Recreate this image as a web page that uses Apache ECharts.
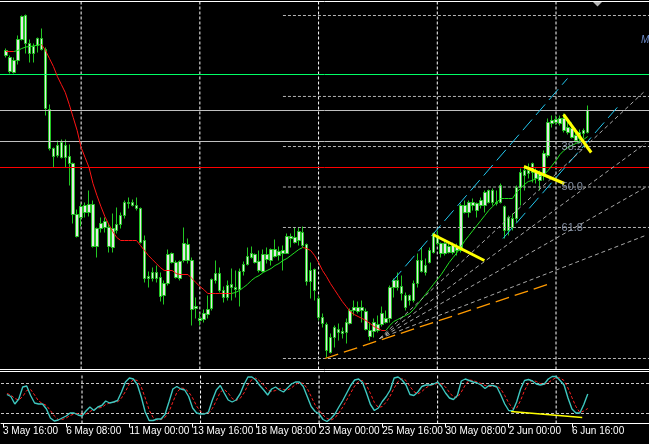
<!DOCTYPE html>
<html><head><meta charset="utf-8">
<script src="https://cdn.jsdelivr.net/npm/echarts@6/dist/echarts.min.js"></script>
<style>html,body{margin:0;padding:0;background:#000;overflow:hidden}#c{width:649px;height:444px;}</style>
</head><body><div id="c"></div>
<script>
// ---------- DATA (H4 bars, index k = 0..147) ----------
const openP = [
1.1452,1.1445,1.1430,1.1442,1.1463,1.1487,1.1459,1.1449,1.1457,1.1464,
1.1453,1.1393,1.1354,1.1347,1.1360,1.1345,1.1346,1.1339,1.1288,1.1285,
1.1290,1.1298,1.1298,1.1256,1.1274,1.1275,1.1275,1.1255,1.1272,1.1278,
1.1287,1.1300,1.1300,1.1297,1.1294,1.1262,1.1224,1.1224,1.1230,1.1225,
1.1207,1.1219,1.1249,1.1240,1.1224,1.1242,1.1258,1.1242,1.1196,1.1184,
1.1183,1.1188,1.1194,1.1222,1.1229,1.1212,1.1205,1.1215,1.1215,1.1213,
1.1231,1.1238,1.1245,1.1248,1.1241,1.1231,1.1248,1.1242,1.1253,1.1247,
1.1249,1.1249,1.1266,1.1265,1.1262,1.1270,1.1258,1.1221,1.1233,1.1204,
1.1185,1.1178,1.1150,1.1165,1.1173,1.1171,1.1170,1.1179,1.1192,1.1195,
1.1192,1.1191,1.1172,1.1171,1.1178,1.1178,1.1184,1.1184,1.1215,1.1222,
1.1216,1.1207,1.1202,1.1202,1.1219,1.1242,1.1237,1.1240,1.1250,1.1267,
1.1259,1.1249,1.1256,1.1250,1.1255,1.1252,1.1297,1.1290,1.1300,1.1299,
1.1297,1.1297,1.1312,1.1300,1.1300,1.1300,1.1296,1.1272,1.1275,1.1284,
1.1315,1.1327,1.1332,1.1330,1.1330,1.1322,1.1327,1.1347,1.1382,1.1380,
1.1379,1.1384,1.1375,1.1374,1.1367,1.1364,1.1369,1.1370];
const closeP = [
1.1447,1.1431,1.1442,1.1463,1.1486,1.1459,1.1449,1.1456,1.1464,1.1453,
1.1394,1.1354,1.1346,1.1357,1.1345,1.1357,1.1339,1.1288,1.1266,1.1296,
1.1297,1.1290,1.1256,1.1274,1.1279,1.1281,1.1256,1.1274,1.1278,1.1287,
1.1300,1.1299,1.1297,1.1294,1.1260,1.1224,1.1226,1.1230,1.1224,1.1206,
1.1219,1.1248,1.1240,1.1225,1.1241,1.1259,1.1242,1.1193,1.1194,1.1182,
1.1189,1.1193,1.1223,1.1229,1.1212,1.1205,1.1217,1.1218,1.1213,1.1231,
1.1238,1.1246,1.1249,1.1240,1.1232,1.1248,1.1243,1.1253,1.1246,1.1251,
1.1252,1.1266,1.1264,1.1260,1.1271,1.1257,1.1221,1.1232,1.1212,1.1185,
1.1179,1.1152,1.1165,1.1175,1.1170,1.1169,1.1180,1.1192,1.1195,1.1191,
1.1195,1.1173,1.1166,1.1180,1.1172,1.1189,1.1180,1.1215,1.1222,1.1215,
1.1209,1.1195,1.1207,1.1219,1.1242,1.1231,1.1230,1.1252,1.1269,1.1259,
1.1249,1.1259,1.1250,1.1257,1.1252,1.1297,1.1290,1.1300,1.1297,1.1292,
1.1302,1.1310,1.1300,1.1312,1.1299,1.1317,1.1272,1.1285,1.1284,1.1315,
1.1330,1.1332,1.1329,1.1339,1.1324,1.1329,1.1349,1.1380,1.1379,1.1383,
1.1384,1.1372,1.1370,1.1365,1.1362,1.1370,1.1372,1.1392];
const highP = [
1.1454,1.1447,1.1445,1.1467,1.1487,1.1488,1.1463,1.1459,1.1465,1.1474,
1.1455,1.1398,1.1355,1.1362,1.1363,1.1363,1.1358,1.1340,1.1293,1.1299,
1.1300,1.1312,1.1302,1.1275,1.1285,1.1285,1.1279,1.1289,1.1295,1.1290,
1.1302,1.1305,1.1303,1.1305,1.1295,1.1267,1.1231,1.1235,1.1237,1.1230,
1.1222,1.1253,1.1250,1.1242,1.1242,1.1275,1.1264,1.1245,1.1205,1.1189,
1.1193,1.1207,1.1224,1.1242,1.1235,1.1216,1.1222,1.1234,1.1232,1.1234,
1.1241,1.1255,1.1256,1.1249,1.1252,1.1253,1.1255,1.1254,1.1263,1.1256,
1.1257,1.1269,1.1269,1.1275,1.1275,1.1276,1.1259,1.1240,1.1234,1.1207,
1.1189,1.1180,1.1169,1.1177,1.1179,1.1175,1.1184,1.1194,1.1202,1.1201,
1.1202,1.1194,1.1180,1.1184,1.1187,1.1196,1.1192,1.1217,1.1224,1.1230,
1.1227,1.1210,1.1208,1.1222,1.1249,1.1255,1.1244,1.1255,1.1270,1.1272,
1.1260,1.1262,1.1259,1.1260,1.1259,1.1299,1.1302,1.1302,1.1304,1.1300,
1.1305,1.1312,1.1313,1.1314,1.1312,1.1319,1.1297,1.1287,1.1289,1.1317,
1.1334,1.1335,1.1339,1.1340,1.1334,1.1332,1.1352,1.1384,1.1387,1.1387,
1.1387,1.1389,1.1382,1.1380,1.1374,1.1373,1.1374,1.1397];
const lowP = [
1.1445,1.1429,1.1429,1.1438,1.1462,1.1449,1.1440,1.1440,1.1450,1.1452,
1.1387,1.1352,1.1335,1.1345,1.1344,1.1335,1.1317,1.1279,1.1265,1.1276,
1.1285,1.1286,1.1255,1.1245,1.1270,1.1270,1.1250,1.1250,1.1269,1.1274,
1.1284,1.1294,1.1296,1.1292,1.1259,1.1220,1.1215,1.1221,1.1220,1.1201,
1.1198,1.1217,1.1239,1.1224,1.1222,1.1240,1.1239,1.1177,1.1184,1.1177,
1.1180,1.1184,1.1192,1.1219,1.1210,1.1200,1.1202,1.1202,1.1205,1.1196,
1.1227,1.1237,1.1244,1.1239,1.1230,1.1230,1.1239,1.1237,1.1245,1.1242,
1.1232,1.1249,1.1255,1.1259,1.1257,1.1255,1.1217,1.1204,1.1202,1.1182,
1.1175,1.1145,1.1149,1.1155,1.1162,1.1164,1.1159,1.1178,1.1187,1.1189,
1.1180,1.1172,1.1162,1.1165,1.1170,1.1176,1.1179,1.1180,1.1205,1.1212,
1.1202,1.1192,1.1197,1.1200,1.1215,1.1230,1.1227,1.1239,1.1249,1.1257,
1.1245,1.1247,1.1249,1.1248,1.1247,1.1250,1.1289,1.1285,1.1292,1.1285,
1.1294,1.1290,1.1299,1.1297,1.1297,1.1299,1.1264,1.1267,1.1272,1.1280,
1.1297,1.1312,1.1324,1.1320,1.1319,1.1312,1.1322,1.1345,1.1375,1.1378,
1.1377,1.1370,1.1368,1.1364,1.1360,1.1359,1.1364,1.1369];
// moving average (coloured by slope)
const maValues = [
1.1451,1.1451,1.1451,1.1452,1.1454,1.14555,1.1456,1.14565,1.14575,1.1458,
1.1452,1.1444,1.1436,1.1426,1.1418,1.1410,1.1398,1.1385,1.1372,1.1355,
1.1345,1.1335,1.1319,1.1307,1.1296,1.1286,1.1278,1.1271,1.1265,1.1262,
1.1262,1.1262,1.1262,1.1262,1.1257,1.1252,1.1247,1.1243,1.1239,1.1235,
1.1232,1.1232,1.1232,1.1229,1.1228,1.1228,1.1228,1.1224,1.1220,1.1216,
1.1213,1.1209,1.1209,1.1209,1.1209,1.1209,1.1209,1.1209,1.1210,1.1212,
1.1215,1.1218,1.1222,1.1225,1.1227,1.1230,1.1232,1.1234,1.1237,1.1239,
1.1242,1.1244,1.1247,1.1250,1.1253,1.1255,1.1254,1.1252,1.1247,1.1240,
1.1232,1.1226,1.1219,1.1213,1.1207,1.1201,1.1196,1.1191,1.1188,1.1186,
1.1184,1.1182,1.1179,1.1176,1.1174,1.1172,1.1172,1.1177,1.1181,1.1183,
1.1185,1.1187,1.1189,1.1193,1.1198,1.1203,1.1208,1.1213,1.1218,1.1223,
1.1228,1.1234,1.1240,1.1245,1.1250,1.1256,1.1262,1.1267,1.1272,1.1277,
1.1282,1.1287,1.1292,1.1296,1.1300,1.1304,1.1304,1.1304,1.1304,1.1310,
1.1314,1.1318,1.1321,1.1322,1.1324,1.1326,1.1328,1.1332,1.1337,1.1342,
1.1348,1.1352,1.1355,1.1357,1.1359,1.1361,1.1363,1.1366];
// stochastic %K and %D
const stochMain = [
58,54,39,49,73,75,56,41,39,39, 29,11,5,7,11,15,21,21,17,15,
25,33,26,33,36,45,41,43,46,63, 83,91,89,78,53,23,6,6,9,9,
18,43,69,74,69,67,54,31,21,19, 19,23,47,67,76,61,47,43,47,59,
78,93,93,87,76,67,57,69,73,67, 63,71,79,83,83,74,54,34,24,19,
8,4,10,19,33,46,61,76,87,89, 82,61,38,26,31,44,54,67,91,93,
87,77,58,56,63,74,77,77,79,83, 74,61,51,48,56,85,89,86,83,81,
77,70,76,76,73,57,39,26,25,43, 69,86,88,85,79,77,79,89,94,94,
86,77,51,29,21,21,38,59];
const stochSignal = [
60,57,50,47,54,66,68,57,45,40, 36,26,15,8,8,11,16,19,20,18,
19,24,28,31,32,38,41,43,43,51, 64,79,88,86,73,51,27,12,7,8,
12,23,43,62,71,70,63,51,35,24, 20,20,30,46,63,68,61,50,46,50,
61,77,88,91,85,77,67,64,66,70, 68,67,71,78,82,80,70,54,37,26,
17,10,7,11,21,33,47,61,75,84, 86,77,60,42,32,34,43,55,71,84,
90,86,74,64,59,64,71,76,78,80, 79,73,62,53,52,63,77,87,86,83,
80,76,74,74,75,69,56,41,30,31, 46,66,81,86,84,80,78,82,87,92,
91,86,71,52,34,22,25,30];
const tickLabels = ['3 May 16:00','6 May 08:00','11 May 00:00','13 May 16:00','18 May 08:00',
  '23 May 00:00','25 May 16:00','30 May 08:00','2 Jun 00:00','6 Jun 16:00'];
const weekStartBars = [19, 49, 79, 109, 139];
const hLinePrices = [1.1428, 1.1392, 1.1361, 1.1335];
const fibHigh = 1.1487, fibLow = 1.1144, fibStartBar = 70;
const fibRatios = [0, 23.6, 38.2, 50, 61.8, 100];
const fibLabelRatios = [38.2, 50, 61.8];
const channelUpper = [[97.6, 1.1221], [141.9, 1.1424]];
const channelLower = [[125.6, 1.1264], [154.9, 1.1397]];
const supportLine = [[80.6, 1.1144], [136.9, 1.1218]];
const fanOrigin = [94.4, 1.1164];
const fanEnds = [[161.6, 1.1412], [161.6, 1.1359], [161.6, 1.1315], [161.6, 1.1267]];
const yellowLines = [
  [[107.9, 1.1268], [120.9, 1.1242]],
  [[130.9, 1.1336], [141.1, 1.1319]],
  [[140.9, 1.1388], [147.9, 1.1350]]];
const oscDivergence = [[127.6, 24], [145.6, 12]];
const oscLevels = [80, 20];

// ---------- CHART ----------
const N = 164;               // category slots (bar k sits in slot k+1)
const X_MIN = -1.5, X_MAX = 162.5;
const P_MAX = 1.1502, P_MIN = 1.1133;
const cats = [];
for (let j = 0; j < N; j++) cats.push(String(j));
const candleData = cats.map((_, j) => {
  const k = j - 1;
  return (k >= 0 && k < openP.length) ? [openP[k], closeP[k], lowP[k], highP[k]] : '-';
});
const pad = arr => ['-'].concat(arr);

function seg(pts, style, opt) {
  return Object.assign({type: 'line', xAxisIndex: 1, yAxisIndex: 0, data: pts, symbol: 'none',
    silent: true, animation: false, lineStyle: style, z: 5}, opt || {});
}
const series = [];
weekStartBars.forEach(k => {
  series.push(seg([[k, P_MIN], [k, P_MAX]], {color: '#ffffff', width: 1, type: [3, 2]}, {z: 1}));
  series.push(seg([[k, 0], [k, 100]], {color: '#ffffff', width: 1, type: [3, 2]}, {xAxisIndex: 3, yAxisIndex: 1, z: 1}));
});
oscLevels.forEach(v => series.push(seg([[X_MIN, v], [X_MAX, v]], {color: '#c8c8c8', width: 1, type: [3, 2]}, {xAxisIndex: 3, yAxisIndex: 1, z: 1})));
series.push({type: 'candlestick', xAxisIndex: 0, yAxisIndex: 0, data: candleData, barWidth: 3,
  silent: true, animation: false, z: 3,
  itemStyle: {color: '#e4e4e4', color0: '#e4e4e4', borderColor: '#22c822', borderColor0: '#22c822', borderWidth: 1}});
const hColors = ['#00ff66', '#c0c0c0', '#c0c0c0', '#ff0000'];
hLinePrices.forEach((p, i) => series.push(seg([[X_MIN, p], [X_MAX, p]], {color: hColors[i], width: 1}, {z: 4})));
fibRatios.forEach(r => {
  const lv = fibHigh - (fibHigh - fibLow) * r / 100;
  series.push(seg([[fibStartBar, lv], [X_MAX, lv]], {color: '#b4b4b4', width: 1, type: [3, 2]}, {z: 4}));
});
series.push({type: 'scatter', xAxisIndex: 1, yAxisIndex: 0, symbolSize: 0, silent: true, animation: false, z: 8,
  data: fibLabelRatios.map(r => [140.4, fibHigh - (fibHigh - fibLow) * r / 100, r.toFixed(1)]),
  label: {show: true, position: 'right', distance: 0, formatter: p => p.value[2],
    color: '#a2b0c8', fontSize: 11, fontFamily: 'Liberation Sans'}});
const maSegs = [];
let up = false;
for (let k = 0; k < maValues.length - 1; k++) {
  const d = maValues[k + 1] - maValues[k];
  if (d > 0) up = true; else if (d < 0) up = false;
  maSegs.push({coords: [[k, maValues[k]], [k + 1, maValues[k + 1]]], lineStyle: {color: up ? '#22e022' : '#ff1414'}});
}
series.push({type: 'lines', coordinateSystem: 'cartesian2d', xAxisIndex: 1, yAxisIndex: 0, data: maSegs,
  lineStyle: {width: 1, opacity: 1}, silent: true, animation: false, z: 5});
series.push(seg(channelUpper, {color: '#22c8f0', width: 1, type: [14, 6]}));
series.push(seg(channelLower, {color: '#22c8f0', width: 1, type: [14, 6]}));
series.push(seg(supportLine, {color: '#ff9a00', width: 1.3, type: [14, 6]}));
fanEnds.forEach(e => series.push(seg([fanOrigin, e], {color: '#a8a8a8', width: 1, type: [4, 3]})));
yellowLines.forEach(l => series.push(seg(l, {color: '#ffff00', width: 3}, {z: 7})));
series.push({type: 'line', xAxisIndex: 2, yAxisIndex: 1, data: pad(stochSignal), symbol: 'none', silent: true,
  animation: false, z: 4, lineStyle: {color: '#ff2020', width: 1, type: [3, 2]}});
series.push({type: 'line', xAxisIndex: 2, yAxisIndex: 1, data: pad(stochMain), symbol: 'none', silent: true,
  animation: false, z: 5, lineStyle: {color: '#3ec8c0', width: 1.4}});
series.push(seg(oscDivergence, {color: '#ffff00', width: 1.5}, {xAxisIndex: 3, yAxisIndex: 1, z: 6}));

const labelIdx = i => i % 16 === 0 && (i / 16) < tickLabels.length;
const hidden = {show: false, axisLine: {show: false}, axisTick: {show: false}, axisLabel: {show: false}, splitLine: {show: false}};
const option = {
  backgroundColor: '#000000',
  animation: false,
  grid: [
    {left: -3.5, width: 656, top: 0.5, height: 369},
    {left: -3.5, width: 656, top: 373.5, height: 50}
  ],
  xAxis: [
    Object.assign({type: 'category', gridIndex: 0, data: cats, boundaryGap: true, position: 'bottom'}, hidden),
    Object.assign({type: 'value', gridIndex: 0, min: X_MIN, max: X_MAX, position: 'top'}, hidden),
    {type: 'category', gridIndex: 1, data: cats, boundaryGap: true, position: 'bottom',
      axisLine: {show: true, lineStyle: {color: '#ffffff', width: 1}},
      axisTick: {show: true, alignWithLabel: true, interval: labelIdx, length: 4, lineStyle: {color: '#ffffff'}},
      axisLabel: {show: true, interval: labelIdx, align: 'left', margin: 3, color: '#ffffff', fontSize: 10,
        fontFamily: 'Liberation Sans', hideOverlap: false,
        formatter: (v, i) => (labelIdx(i) ? tickLabels[i / 16] : '')},
      splitLine: {show: false}},
    Object.assign({type: 'value', gridIndex: 1, min: X_MIN, max: X_MAX, position: 'top'}, hidden)
  ],
  yAxis: [
    Object.assign({type: 'value', gridIndex: 0, min: P_MIN, max: P_MAX, scale: true}, hidden),
    Object.assign({type: 'value', gridIndex: 1, min: 0, max: 100}, hidden)
  ],
  series: series,
  graphic: [
    {type: 'line', shape: {x1: 0, y1: 1.5, x2: 649, y2: 1.5}, style: {stroke: '#ffffff', lineWidth: 1}, z: 100},
    {type: 'line', shape: {x1: 0, y1: 369.5, x2: 649, y2: 369.5}, style: {stroke: '#ffffff', lineWidth: 1}, z: 100},
    {type: 'line', shape: {x1: 0, y1: 371.5, x2: 649, y2: 371.5}, style: {stroke: '#ffffff', lineWidth: 1}, z: 100},
    {type: 'polygon', shape: {points: [[593, 2], [602, 2], [597.5, 6.5]]}, style: {fill: '#b4b4b4'}, z: 100},
    {type: 'text', left: 641, top: 35, style: {text: 'M', fill: '#6f8fd0', font: 'italic 10px "Liberation Sans"'}, z: 100}
  ]
};
const chart = echarts.init(document.getElementById('c'));
chart.setOption(option);
</script></body></html>
